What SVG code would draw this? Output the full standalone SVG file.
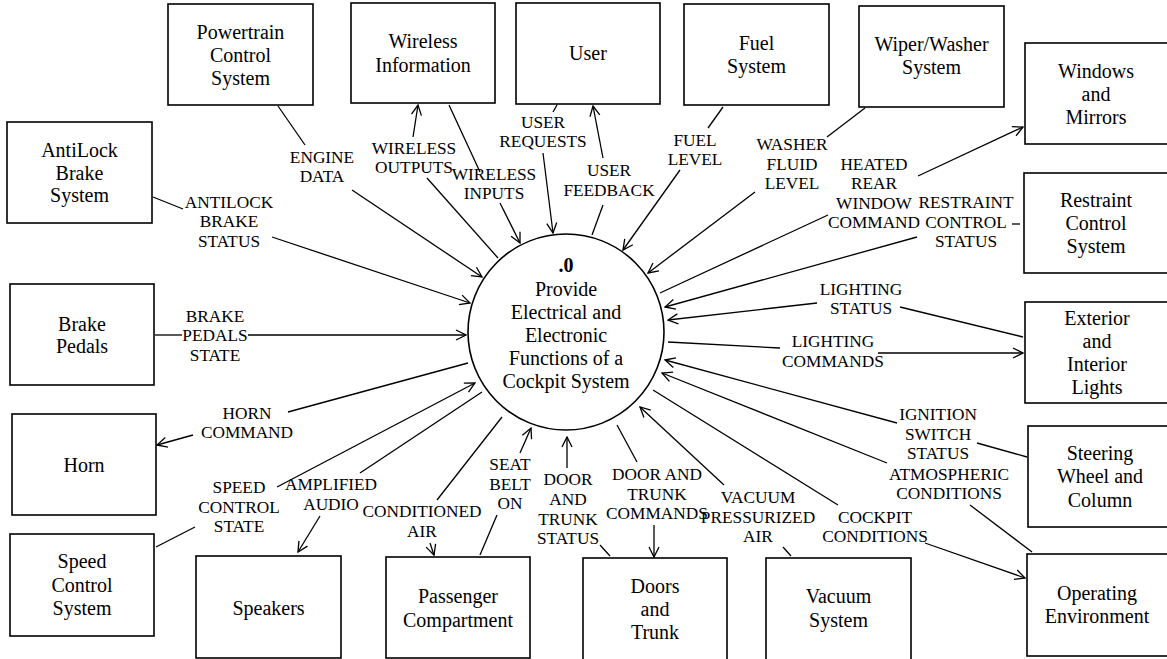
<svg xmlns="http://www.w3.org/2000/svg" width="1167" height="659" viewBox="0 0 1167 659">
<style>
.box{fill:#fff;stroke:#000;stroke-width:1.6}
.bt{font-family:"Liberation Serif","Times New Roman",serif;font-size:20px;text-anchor:middle;fill:#000}
.lb{font-family:"Liberation Serif","Times New Roman",serif;font-size:17.3px;text-anchor:middle;fill:#000}
.c path{fill:none;stroke:#000;stroke-width:1.3}
</style>
<defs>
<marker id="arr" viewBox="0 0 12 12" refX="11" refY="6" markerWidth="12" markerHeight="12" markerUnits="userSpaceOnUse" orient="auto"><path d="M1,1 L11,6 L1,11" fill="none" stroke="#000" stroke-width="1.3"/></marker>
</defs>
<rect width="1167" height="659" fill="#fff"/>

<g id="process">
<circle cx="566" cy="332" r="98" fill="#fff" stroke="#000" stroke-width="1.6"/>
<text class="bt" x="566" y="272" font-weight="bold">.0</text>
<text class="bt" x="566" y="296">Provide</text>
<text class="bt" x="566" y="319">Electrical and</text>
<text class="bt" x="566" y="342">Electronic</text>
<text class="bt" x="566" y="365">Functions of a</text>
<text class="bt" x="566" y="388">Cockpit System</text>
</g>

<g id="powertrain"><rect class="box" x="168" y="4" width="145" height="101"/><text class="bt" x="240.5" y="39">Powertrain</text><text class="bt" x="240.5" y="62">Control</text><text class="bt" x="240.5" y="85">System</text></g>
<g id="wireless"><rect class="box" x="351" y="3" width="144" height="100"/><text class="bt" x="423" y="48">Wireless</text><text class="bt" x="423" y="72">Information</text></g>
<g id="user"><rect class="box" x="516" y="3" width="144" height="101"/><text class="bt" x="588" y="60">User</text></g>
<g id="fuel"><rect class="box" x="684" y="4" width="145" height="101"/><text class="bt" x="756.5" y="50">Fuel</text><text class="bt" x="756.5" y="73">System</text></g>
<g id="wiper"><rect class="box" x="859" y="6" width="145" height="101"/><text class="bt" x="931.5" y="51">Wiper/Washer</text><text class="bt" x="931.5" y="74">System</text></g>
<g id="windows"><rect class="box" x="1025" y="43" width="145" height="101"/><text class="bt" x="1096" y="78">Windows</text><text class="bt" x="1096" y="101">and</text><text class="bt" x="1096" y="124">Mirrors</text></g>
<g id="restraint"><rect class="box" x="1024" y="173" width="146" height="100"/><text class="bt" x="1096" y="207">Restraint</text><text class="bt" x="1096" y="230">Control</text><text class="bt" x="1096" y="253">System</text></g>
<g id="lights"><rect class="box" x="1025" y="302" width="145" height="101"/><text class="bt" x="1097" y="325">Exterior</text><text class="bt" x="1097" y="348">and</text><text class="bt" x="1097" y="371">Interior</text><text class="bt" x="1097" y="394">Lights</text></g>
<g id="steering"><rect class="box" x="1028" y="426" width="145" height="101"/><text class="bt" x="1100" y="460">Steering</text><text class="bt" x="1100" y="483">Wheel and</text><text class="bt" x="1100" y="507">Column</text></g>
<g id="operating"><rect class="box" x="1027" y="554" width="145" height="102"/><text class="bt" x="1097" y="600">Operating</text><text class="bt" x="1097" y="623">Environment</text></g>
<g id="antilock"><rect class="box" x="7" y="122" width="145" height="101"/><text class="bt" x="79.5" y="157">AntiLock</text><text class="bt" x="79.5" y="180">Brake</text><text class="bt" x="79.5" y="202">System</text></g>
<g id="brakepedals"><rect class="box" x="10" y="284" width="144" height="101"/><text class="bt" x="82" y="331">Brake</text><text class="bt" x="82" y="353">Pedals</text></g>
<g id="horn"><rect class="box" x="12" y="414" width="144" height="101"/><text class="bt" x="84" y="472">Horn</text></g>
<g id="speedcontrol"><rect class="box" x="10" y="534" width="144" height="102"/><text class="bt" x="82" y="568">Speed</text><text class="bt" x="82" y="592">Control</text><text class="bt" x="82" y="615">System</text></g>
<g id="speakers"><rect class="box" x="196" y="556" width="145" height="102"/><text class="bt" x="268.5" y="615">Speakers</text></g>
<g id="passenger"><rect class="box" x="386" y="557" width="144" height="101"/><text class="bt" x="458" y="603">Passenger</text><text class="bt" x="458" y="627">Compartment</text></g>
<g id="doors"><rect class="box" x="583" y="558" width="144" height="110"/><text class="bt" x="655" y="593">Doors</text><text class="bt" x="655" y="616">and</text><text class="bt" x="655" y="639">Trunk</text></g>
<g id="vacuum"><rect class="box" x="766" y="558" width="145" height="110"/><text class="bt" x="838.5" y="603">Vacuum</text><text class="bt" x="838.5" y="627">System</text></g>

<g id="connectors" class="c">
<path d="M278,106 L305,145"/><path d="M352,190 L482,277" marker-end="url(#arr)"/>
<path d="M413,137 L418,105" marker-end="url(#arr)"/><path d="M427,178 L498,258"/>
<path d="M449,105 L480,172"/><path d="M500,203 L520,243" marker-end="url(#arr)"/>
<path d="M557,105 L553,112"/><path d="M543,153 L553,233" marker-end="url(#arr)"/>
<path d="M603,158 L593,106" marker-end="url(#arr)"/><path d="M592,235 L603,205"/>
<path d="M723,107 L708,128"/><path d="M680,170 L623,250" marker-end="url(#arr)"/>
<path d="M865,108 L827,137"/><path d="M755,192 L648,273" marker-end="url(#arr)"/>
<path d="M660,293 L828,215"/><path d="M918,176 L1023,127" marker-end="url(#arr)"/>
<path d="M1020,224 L1012,224"/><path d="M917,237 L665,307" marker-end="url(#arr)"/>
<path d="M1023,337 L900,307"/><path d="M817,303 L668,320" marker-end="url(#arr)"/>
<path d="M668,342 L780,348"/><path d="M878,353 L1023,353" marker-end="url(#arr)"/>
<path d="M1027,457 L977,443"/><path d="M897,423 L665,360" marker-end="url(#arr)"/>
<path d="M1032,552 L970,505"/><path d="M887,463 L662,373" marker-end="url(#arr)"/>
<path d="M653,390 L838,505"/><path d="M925,543 L1025,578" marker-end="url(#arr)"/>
<path d="M791,556 L783,547"/><path d="M724,485 L640,407" marker-end="url(#arr)"/>
<path d="M617,425 L637,462"/><path d="M654,525 L654,557" marker-end="url(#arr)"/>
<path d="M610,556 L600,545"/><path d="M567,468 L567,437" marker-end="url(#arr)"/>
<path d="M480,555 L497,515"/><path d="M520,453 L531,428" marker-end="url(#arr)"/>
<path d="M502,417 L437,500"/><path d="M430,543 L434,555" marker-end="url(#arr)"/>
<path d="M482,392 L360,473"/><path d="M320,516 L298,552" marker-end="url(#arr)"/>
<path d="M156,547 L195,527"/><path d="M277,487 L475,383" marker-end="url(#arr)"/>
<path d="M468,363 L288,412"/><path d="M193,435 L157,445" marker-end="url(#arr)"/>
<path d="M155,335 L182,335"/><path d="M248,335 L466,335" marker-end="url(#arr)"/>
<path d="M153,197 L183,209"/><path d="M272,237 L470,303" marker-end="url(#arr)"/>
</g>

<g id="labels">
<text class="lb" x="322" y="163">ENGINE</text><text class="lb" x="322" y="182">DATA</text>
<text class="lb" x="414" y="154">WIRELESS</text><text class="lb" x="414" y="173">OUTPUTS</text>
<text class="lb" x="494" y="180">WIRELESS</text><text class="lb" x="494" y="199">INPUTS</text>
<text class="lb" x="543" y="128">USER</text><text class="lb" x="543" y="147">REQUESTS</text>
<text class="lb" x="609" y="176">USER</text><text class="lb" x="609" y="196">FEEDBACK</text>
<text class="lb" x="695" y="146">FUEL</text><text class="lb" x="695" y="165">LEVEL</text>
<text class="lb" x="792" y="150">WASHER</text><text class="lb" x="792" y="170">FLUID</text><text class="lb" x="792" y="189">LEVEL</text>
<text class="lb" x="874" y="170">HEATED</text><text class="lb" x="874" y="189">REAR</text><text class="lb" x="874" y="209">WINDOW</text><text class="lb" x="874" y="228">COMMAND</text>
<text class="lb" x="966" y="208">RESTRAINT</text><text class="lb" x="966" y="228">CONTROL</text><text class="lb" x="966" y="247">STATUS</text>
<text class="lb" x="861" y="295">LIGHTING</text><text class="lb" x="861" y="314">STATUS</text>
<text class="lb" x="833" y="347">LIGHTING</text><text class="lb" x="833" y="367">COMMANDS</text>
<text class="lb" x="938" y="420">IGNITION</text><text class="lb" x="938" y="440">SWITCH</text><text class="lb" x="938" y="459">STATUS</text>
<text class="lb" x="949" y="480">ATMOSPHERIC</text><text class="lb" x="949" y="499">CONDITIONS</text>
<text class="lb" x="875" y="523">COCKPIT</text><text class="lb" x="875" y="542">CONDITIONS</text>
<text class="lb" x="758" y="503">VACUUM</text><text class="lb" x="758" y="523">PRESSURIZED</text><text class="lb" x="758" y="542">AIR</text>
<text class="lb" x="657" y="480">DOOR AND</text><text class="lb" x="657" y="500">TRUNK</text><text class="lb" x="657" y="519">COMMANDS</text>
<text class="lb" x="568" y="485">DOOR</text><text class="lb" x="568" y="505">AND</text><text class="lb" x="568" y="525">TRUNK</text><text class="lb" x="568" y="544">STATUS</text>
<text class="lb" x="510" y="470">SEAT</text><text class="lb" x="510" y="490">BELT</text><text class="lb" x="510" y="509">ON</text>
<text class="lb" x="422" y="517">CONDITIONED</text><text class="lb" x="422" y="537">AIR</text>
<text class="lb" x="331" y="490">AMPLIFIED</text><text class="lb" x="331" y="510">AUDIO</text>
<text class="lb" x="239" y="493">SPEED</text><text class="lb" x="239" y="513">CONTROL</text><text class="lb" x="239" y="532">STATE</text>
<text class="lb" x="247" y="419">HORN</text><text class="lb" x="247" y="438">COMMAND</text>
<text class="lb" x="215" y="322">BRAKE</text><text class="lb" x="215" y="341">PEDALS</text><text class="lb" x="215" y="361">STATE</text>
<text class="lb" x="229" y="208">ANTILOCK</text><text class="lb" x="229" y="227">BRAKE</text><text class="lb" x="229" y="247">STATUS</text>
</g>
</svg>
